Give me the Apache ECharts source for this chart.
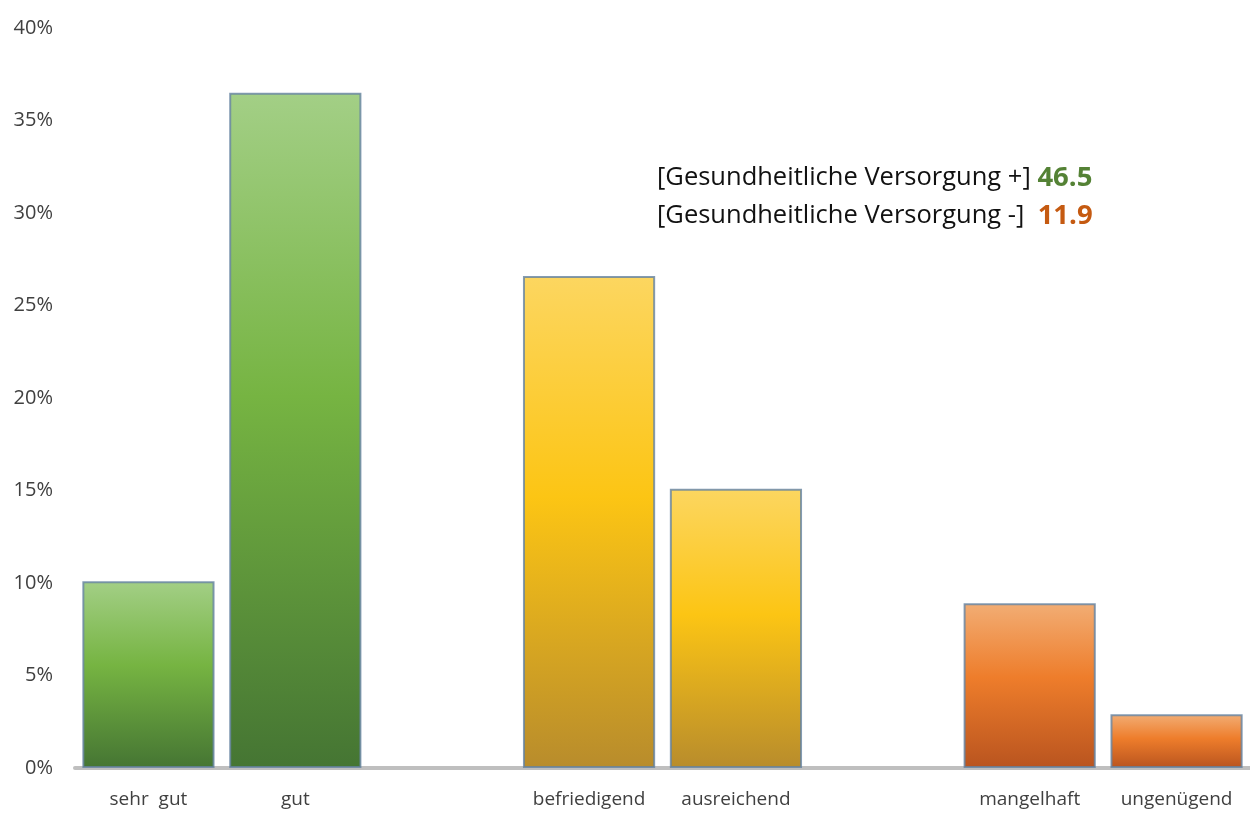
<!DOCTYPE html>
<html>
<head>
<meta charset="utf-8">
<title>Gesundheitliche Versorgung</title>
<script src="https://cdn.jsdelivr.net/npm/echarts@6/dist/echarts.min.js"></script>
<style>
  html, body { margin: 0; padding: 0; background: #fff; }
  #main { width: 1250px; height: 821px; }
</style>
</head>
<body>
<div id="main"></div>
<script>
// Noten, leere Kategorien sind die Lücken zwischen den Gruppen
var categories = ['sehr  gut', 'gut', '', 'befriedigend', 'ausreichend', '', 'mangelhaft', 'ungenügend'];
var values = [10.1, 36.5, '-', 26.6, 15.1, '-', 8.9, 2.9];
var groups = ['green', 'green', null, 'yellow', 'yellow', null, 'orange', 'orange'];
var yTicks = [0, 5, 10, 15, 20, 25, 30, 35, 40];
var notePlus = 46.5;
var noteMinus = 11.9;

var palette = {
  green: ['#a3cf86', '#76b442', '#457533'],
  yellow: ['#fcd660', '#fcc514', '#b88c2c'],
  orange: ['#f2ad74', '#ee7d2b', '#b9541f']
};

function grad(c) {
  return new echarts.graphic.LinearGradient(0, 0, 0, 1, [
    { offset: 0, color: c[0] },
    { offset: 0.45, color: c[1] },
    { offset: 1, color: c[2] }
  ]);
}

var barData = values.map(function (v, i) {
  if (v === '-') return '-';
  return {
    value: v,
    itemStyle: {
      color: grad(palette[groups[i]]),
      borderColor: 'rgba(100,130,160,0.8)',
      borderWidth: 2
    }
  };
});

var chart = echarts.init(document.getElementById('main'));
chart.setOption({
  animation: false,
  grid: { left: 75, right: 0, top: 28, bottom: 53 },
  xAxis: {
    type: 'category',
    data: categories,
    axisLine: { lineStyle: { color: '#bfbfbf', width: 4 } },
    axisTick: { show: false },
    axisLabel: { color: '#404040', fontSize: 19, fontFamily: 'Open Sans', margin: 22, interval: 0 }
  },
  yAxis: {
    type: 'value',
    min: yTicks[0],
    max: yTicks[yTicks.length - 1],
    interval: 5,
    splitLine: { show: false },
    axisLine: { show: false },
    axisTick: { show: false },
    axisLabel: {
      color: '#404040', fontSize: 20, fontFamily: 'Open Sans', margin: 22,
      formatter: '{value}%'
    }
  },
  series: [{
    type: 'bar',
    data: barData,
    barCategoryGap: '10%'
  }],
  graphic: [{
    type: 'text',
    left: 657,
    top: 159,
    style: {
      text: '[Gesundheitliche Versorgung +] {g|' + notePlus + '}\n[Gesundheitliche Versorgung -]  {o|' + noteMinus + '}',
      fontFamily: 'Open Sans',
      fontSize: 25.5,
      lineHeight: 38,
      fill: '#111',
      rich: {
        g: { fontFamily: 'Open Sans', fontSize: 27.5, fontWeight: 'bold', fill: '#548235', lineHeight: 38 },
        o: { fontFamily: 'Open Sans', fontSize: 27.5, fontWeight: 'bold', fill: '#c55a11', lineHeight: 38 }
      }
    }
  }]
});
</script>
</body>
</html>
